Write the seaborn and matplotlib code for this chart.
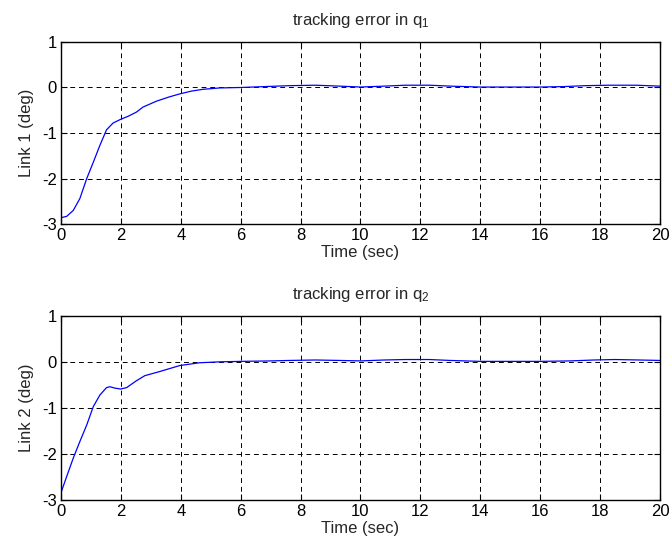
import numpy as np
import pandas as pd
import matplotlib
matplotlib.use("Agg")
import matplotlib.pyplot as plt
import seaborn as sns

# Data
t1 = [0.0, 0.19, 0.41, 0.63, 0.86, 1.08, 1.3, 1.52, 1.74, 1.99, 2.25, 2.52, 2.74, 3.19, 3.6, 3.97, 4.35, 4.74, 5.3, 6.0, 6.8, 7.63, 8.5, 9.3, 10.0, 10.8, 11.5, 12.3, 13.0, 14.0, 15.0, 16.0, 16.8, 17.5, 18.3, 19.2, 20.0]
e1 = [-2.86, -2.83, -2.70, -2.44, -2.00, -1.64, -1.27, -0.93, -0.78, -0.70, -0.63, -0.54, -0.43, -0.30, -0.21, -0.14, -0.08, -0.04, -0.01, 0.00, 0.02, 0.04, 0.05, 0.03, 0.01, 0.03, 0.05, 0.05, 0.03, 0.01, 0.01, 0.01, 0.02, 0.04, 0.05, 0.05, 0.03]
t2 = [0.0, 0.19, 0.41, 0.63, 0.86, 1.08, 1.3, 1.52, 1.63, 1.8, 1.99, 2.19, 2.52, 2.8, 3.3, 3.97, 4.63, 5.3, 6.0, 7.0, 7.63, 8.5, 9.3, 10.0, 10.8, 11.5, 12.3, 13.0, 14.0, 15.0, 16.0, 17.0, 17.8, 18.5, 19.3, 20.0]
e2 = [-2.84, -2.49, -2.09, -1.73, -1.37, -0.97, -0.72, -0.56, -0.54, -0.57, -0.59, -0.56, -0.41, -0.30, -0.21, -0.08, -0.02, 0.00, 0.01, 0.02, 0.03, 0.04, 0.03, 0.02, 0.04, 0.05, 0.05, 0.03, 0.01, 0.01, 0.01, 0.02, 0.04, 0.05, 0.04, 0.03]
xticks = [0, 2, 4, 6, 8, 10, 12, 14, 16, 18, 20]
yticks = [-3, -2, -1, 0, 1]
titles = [r"tracking error in q$_{\mathregular{1}}$", r"tracking error in q$_{\mathregular{2}}$"]
ylabels = ["Link 1 (deg)", "Link 2 (deg)"]
xlabel = "Time (sec)"

sns.set_style("white")
plt.rcParams["font.family"] = ["Liberation Sans", "DejaVu Sans"]
plt.rcParams["mathtext.fontset"] = "custom"
plt.rcParams["mathtext.rm"] = "Liberation Sans"
plt.rcParams["mathtext.it"] = "Liberation Sans"
fs = 12

fig = plt.figure(figsize=(6.7, 5.52), dpi=100)
axes = [fig.add_axes([0.091, 0.594, 0.894, 0.330]),
        fig.add_axes([0.091, 0.094, 0.894, 0.334])]

for ax, t, e, ttl, yl in zip(axes, [t1, t2], [e1, e2], titles, ylabels):
    df = pd.DataFrame({"t": t, "e": e})
    sns.lineplot(data=df, x="t", y="e", ax=ax, color="#0000ff", linewidth=0.9)
    ax.set_xlim(0, 20)
    ax.set_ylim(-3, 1)
    ax.set_xticks(xticks)
    ax.set_yticks(yticks)
    ax.set_xticklabels([str(v) for v in xticks], fontsize=fs)
    ax.set_yticklabels([str(v) for v in yticks], fontsize=fs)
    ax.grid(True, color="black", linestyle=(0, (5, 4)), linewidth=0.7)
    ax.tick_params(direction="in", length=4, width=0.8, top=True, right=True,
                   bottom=True, left=True, pad=3, colors="black")
    for s in ax.spines.values():
        s.set_visible(True)
        s.set_color("black")
        s.set_linewidth(1.0)
    ax.set_xlabel(xlabel, fontsize=fs, labelpad=1)
    ax.set_ylabel(yl, fontsize=fs, labelpad=6)
    ax.set_title(ttl, fontsize=fs, pad=12)

fig.savefig("out.png", dpi=100)
